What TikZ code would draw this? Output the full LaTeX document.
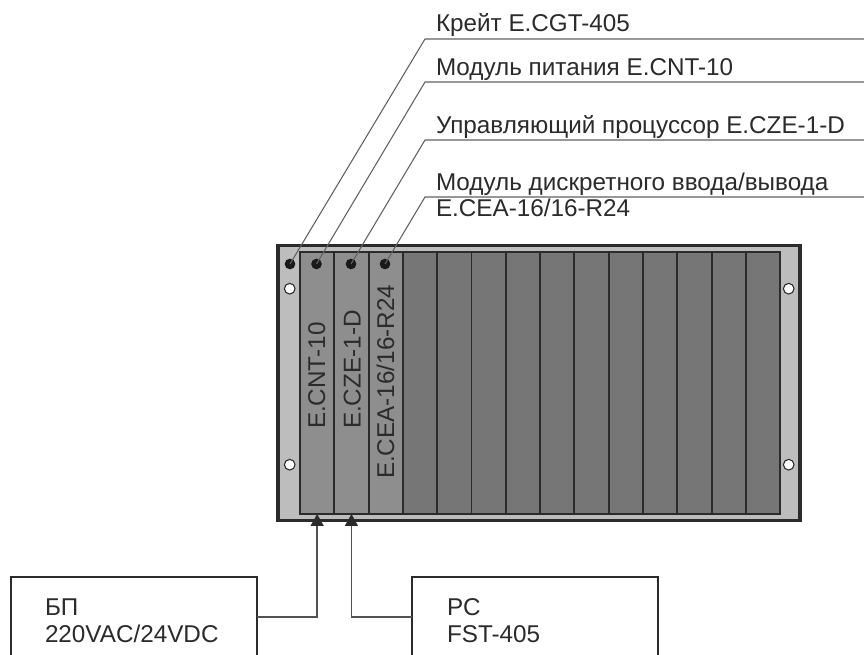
\documentclass[tikz,border=0pt]{standalone}
\usepackage{fontspec}
\setmainfont{Liberation Sans}
\usetikzlibrary{arrows.meta,calc}
\definecolor{inkc}{HTML}{2B2B2B}
\definecolor{framec}{HTML}{BDBDBD}
\definecolor{slotl}{HTML}{8E8E8E}
\definecolor{slotd}{HTML}{767676}
\tikzset{
  x=0.75pt,y=-0.75pt,
  lbl/.style={anchor=base west,inner sep=0pt,outer sep=0pt,text=inkc,font=\fontsize{18.2pt}{20pt}\selectfont},
  vlbl/.style={lbl,rotate=90},
  slotbox/.style={draw=none,minimum width=25.725pt,minimum height=196.5pt,anchor=north west,inner sep=0pt,outer sep=0pt},
  slotline/.style={draw=inkc,line width=1.4pt},
  blackdot/.style={circle,fill=black!90,draw=none,minimum size=8pt,inner sep=0pt,outer sep=0pt},
  hole/.style={circle,fill=white,draw=inkc,line width=0.8pt,minimum size=8pt,inner sep=0pt},
  leader/.style={draw=black!62,line width=0.8pt},
  conn/.style={draw=black!68,line width=1.1pt},
  tip/.style={-{Triangle[width=9.75pt,length=9pt,color=inkc]}},
  unit/.style={draw=inkc,line width=2.2pt,fill=white,minimum width=184.5pt,minimum height=112pt,anchor=north west,inner sep=0pt,outer sep=0pt},
}
\begin{document}
\begin{tikzpicture}
\clip (0,0) rectangle (864,655);
\fill[white] (0,0) rectangle (864,655);
% crate
\node[draw=inkc,line width=2.4pt,fill=framec,minimum width=391.5pt,minimum height=206pt,anchor=north west,inner sep=0pt,outer sep=0pt] (crate) at (278,245.5) {};
\foreach \i/\c in {1/slotl,2/slotl,3/slotl,4/slotd,5/slotd,6/slotd,7/slotd,8/slotd,9/slotd,10/slotd,11/slotd,12/slotd,13/slotd,14/slotd}
  \node[slotbox,fill=\c] (slot\i) at ({300+34.3*(\i-1)},252) {};
\foreach \i in {1,...,14}
  \draw[slotline] (slot\i.north west) rectangle (slot\i.south east);
% holes
\node[hole] (h1) at (289.7,288.7) {};
\node[hole] (h2) at (289.7,464.7) {};
\node[hole] (h3) at (788.7,288.7) {};
\node[hole] (h4) at (788.7,464.7) {};
% leaders
\node[blackdot] (d1) at (290,264) {};
\node[blackdot] (d2) at (316.5,264) {};
\node[blackdot] (d3) at (351,264) {};
\node[blackdot] (d4) at (385,264) {};
\coordinate (k1) at (425,39);  \coordinate (e1) at (864,39);
\coordinate (k2) at (425,82);  \coordinate (e2) at (864,82);
\coordinate (k3) at (425,140); \coordinate (e3) at (864,140);
\coordinate (k4) at (425,197); \coordinate (e4) at (864,197);
\draw[leader] (d1.center) -- (k1) -- (e1);
\draw[leader] (d2.center) -- (k2) -- (e2);
\draw[leader] (d3.center) -- (k3) -- (e3);
\draw[leader] (d4.center) -- (k4) -- (e4);
% labels
\node[lbl] (t1) at (436,32) {Крейт E.CGT-405};
\node[lbl] (t2) at (436,75.5) {Модуль питания E.CNT-10};
\node[lbl] (t3) at (436,133.5) {Управляющий процуссор E.CZE-1-D};
\node[lbl] (t4) at (436,190.5) {Модуль дискретного ввода/вывода};
\node[lbl] (t5) at (436,217) {E.CEA-16/16-R24};
\node[vlbl] (v1) at (325,429) {E.CNT-10};
\node[vlbl] (v2) at (360.5,429) {E.CZE-1-D};
\node[vlbl] (v3) at (394,479) {E.CEA-16/16-R24};
% units
\node[unit] (bp) at (11,577) {};
\node[unit] (pc) at (412,577) {};
\node[lbl] (b1) at (45,615) {БП};
\node[lbl] (b2) at (45,642.5) {220VAC/24VDC};
\node[lbl] (p1) at (447,615) {PC};
\node[lbl] (p2) at (447,642.5) {FST-405};
% connectors
\draw[conn,tip] ($(bp.north east)+(0,40)$) -| (slot1.south);
\draw[conn,tip] ($(pc.north west)+(0,40)$) -| (slot2.south);
\end{tikzpicture}
\end{document}
